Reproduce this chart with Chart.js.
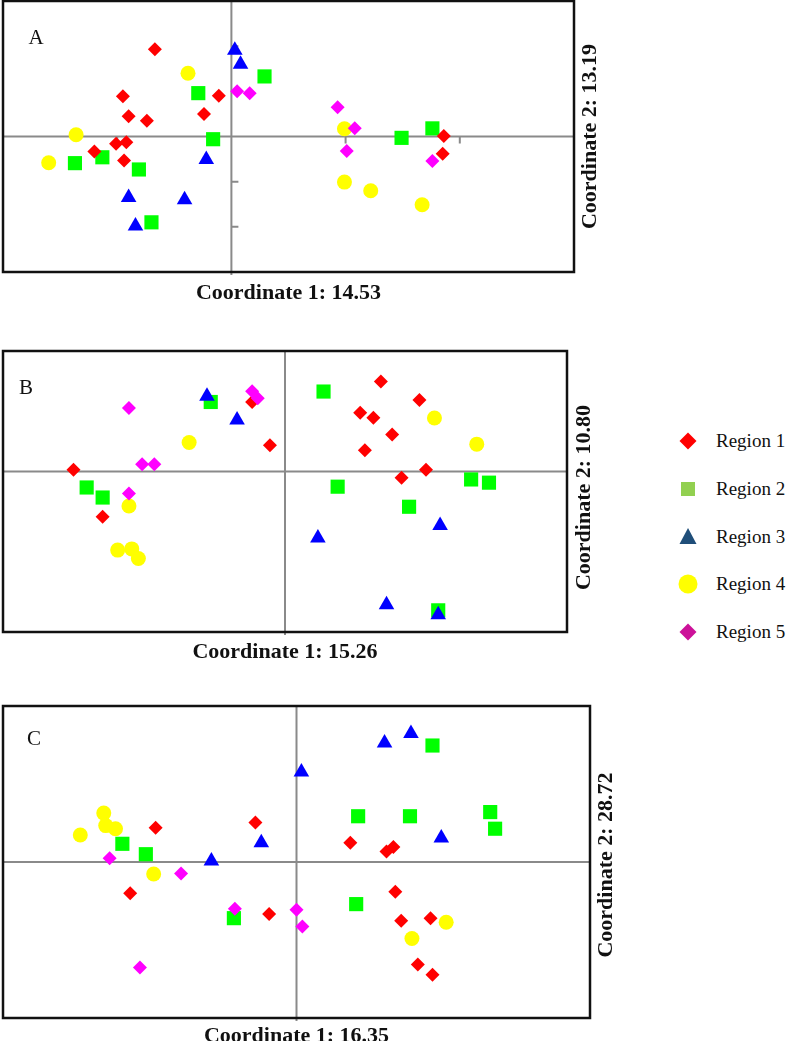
<!DOCTYPE html>
<html>
<head>
<meta charset="utf-8">
<title>PCoA by region</title>
<script src="https://cdn.jsdelivr.net/npm/chart.js@4.4.1/dist/chart.umd.min.js"></script>
<style>
  html, body { margin: 0; padding: 0; background: #fff; }
  body { width: 788px; height: 1041px; position: relative; overflow: hidden; font-family: "Liberation Serif", "Times New Roman", serif; }
  .panel { position: absolute; left: 0; width: 640px; }
  .leg-row { position: absolute; left: 676px; height: 24px; display: flex; align-items: center; font-size: 19px; color: #111; white-space: nowrap; }
  .leg-row svg { width: 24px; height: 24px; margin-right: 16px; flex: none; }
</style>
</head>
<body>
<div class="panel" id="boxA"><canvas id="chartA"></canvas></div>
<div class="panel" id="boxB"><canvas id="chartB"></canvas></div>
<div class="panel" id="boxC"><canvas id="chartC"></canvas></div>
<div id="legend"></div>
<script>
const regions = ['Region 1', 'Region 2', 'Region 3', 'Region 4', 'Region 5'];
const panelLetters = ['A', 'B', 'C'];
const xTitles = ['Coordinate 1: 14.53', 'Coordinate 1: 15.26', 'Coordinate 1: 16.35'];
const yTitles = ['Coordinate 2: 13.19', 'Coordinate 2: 10.80', 'Coordinate 2: 28.72'];

// axis ranges [min, max] and the small tick marks on the zero lines
const rangeAx = [-2, 3], rangeAy = [-3, 3];
const rangeBx = [-3, 3], rangeBy = [-4, 3];
const rangeCx = [-3, 3], rangeCy = [-3, 3];
const ticksAx = [-1, 1, 2], ticksAy = [-2, -1, 1, 2];

// panel A, [coord1, coord2] per individual
const a_r1 = [[-0.67, 1.93], [-0.95, 0.89], [-0.90, 0.45], [-0.74, 0.35], [-1.01, -0.16], [-0.92, -0.13], [-1.20, -0.33], [-0.94, -0.53], [-0.11, 0.90], [-0.24, 0.50], [1.86, 0.01], [1.85, -0.38]];
const a_r2 = [[0.29, 1.33], [-0.29, 0.96], [-0.16, -0.06], [-1.37, -0.59], [-1.13, -0.46], [-0.81, -0.73], [-0.70, -1.90], [1.49, -0.03], [1.76, 0.18]];
const a_r3 = [[0.03, 1.91], [0.08, 1.60], [-0.22, -0.51], [-0.90, -1.35], [-0.41, -1.40], [-0.84, -1.98]];
const a_r4 = [[-0.38, 1.40], [-1.36, 0.04], [-1.60, -0.58], [0.99, 0.17], [0.99, -1.01], [1.22, -1.20], [1.67, -1.51]];
const a_r5 = [[0.05, 1.00], [0.16, 0.96], [0.93, 0.65], [1.08, 0.18], [1.01, -0.32], [1.76, -0.54]];

// panel B
const b_r1 = [[-2.25, 0.04], [-1.94, -1.13], [-0.35, 1.73], [-0.16, 0.65], [1.02, 2.24], [1.43, 1.78], [0.80, 1.46], [0.94, 1.34], [1.14, 0.92], [0.85, 0.53], [1.50, 0.04], [1.24, -0.16]];
const b_r2 = [[-2.11, -0.40], [-1.94, -0.65], [-0.79, 1.73], [0.41, 1.99], [0.56, -0.38], [1.32, -0.88], [1.98, -0.20], [2.17, -0.28], [1.63, -3.46]];
const b_r3 = [[-0.83, 1.87], [-0.51, 1.28], [0.35, -1.66], [1.65, -1.35], [1.08, -3.32], [1.63, -3.57]];
const b_r4 = [[-1.02, 0.72], [-1.66, -0.86], [-1.78, -1.96], [-1.63, -1.93], [-1.56, -2.17], [1.59, 1.33], [2.04, 0.68]];
const b_r5 = [[-1.66, 1.58], [-0.35, 2.00], [-0.29, 1.82], [-1.52, 0.18], [-1.39, 0.18], [-1.66, -0.55]];

// panel C
const c_r1 = [[-1.44, 0.66], [-1.70, -0.60], [-0.42, 0.76], [-0.28, -1.00], [0.55, 0.37], [0.92, 0.20], [0.99, 0.29], [1.01, -0.57], [1.07, -1.13], [1.37, -1.08], [1.24, -1.97], [1.39, -2.17]];
const c_r2 = [[-1.78, 0.35], [-1.54, 0.15], [-0.64, -1.08], [0.63, 0.88], [1.16, 0.88], [1.39, 2.24], [1.98, 0.96], [2.03, 0.64], [0.61, -0.81]];
const c_r3 = [[0.05, 1.73], [0.90, 2.29], [1.17, 2.47], [1.48, 0.46], [-0.36, 0.37], [-0.87, 0.02]];
const c_r4 = [[-1.97, 0.94], [-1.95, 0.70], [-1.85, 0.64], [-2.21, 0.52], [-1.46, -0.23], [1.53, -1.16], [1.18, -1.47]];
const c_r5 = [[-1.91, 0.07], [-1.18, -0.22], [-0.63, -0.90], [0.00, -0.92], [0.06, -1.24], [-1.60, -2.03]];

// marker look per region (plot markers and the legend use different shades)
const markerColors = ['#ff0000', '#00ff00', '#0000ff', '#ffff00', '#ff00ff'];
const legendColors = ['#ff0000', '#92d050', '#1f4e79', '#ffff00', '#cc1199'];
const markerStyles = ['rectRot', 'rect', 'triangle', 'circle', 'rectRot'];
const markerRadius = [7, 10, 9, 7.5, 7];
const drawOrder = [4, 5, 2, 3, 1]; // lower = on top

// draws the zero lines, frame, panel letter and axis titles
const pcoaPlugin = {
  id: 'pcoa',
  beforeDatasetsDraw(chart, args, opts) {
    const { ctx, chartArea: a, scales: { x, y } } = chart;
    const x0 = x.getPixelForValue(0), y0 = y.getPixelForValue(0);
    ctx.save();
    ctx.strokeStyle = '#8a8a8a';
    ctx.lineWidth = 2;
    ctx.beginPath();
    ctx.moveTo(x0, a.top); ctx.lineTo(x0, a.bottom + 3);
    ctx.moveTo(a.left, y0); ctx.lineTo(a.right, y0);
    (opts.ticksX || []).forEach(v => {
      const px = x.getPixelForValue(v);
      ctx.moveTo(px, y0); ctx.lineTo(px, y0 + 7);
    });
    (opts.ticksY || []).forEach(v => {
      const py = y.getPixelForValue(v);
      ctx.moveTo(x0, py); ctx.lineTo(x0 + 7, py);
    });
    ctx.stroke();
    ctx.restore();
  },
  afterDraw(chart, args, opts) {
    const { ctx, chartArea: a } = chart;
    ctx.save();
    ctx.strokeStyle = '#111';
    ctx.lineWidth = 2.5;
    ctx.strokeRect(a.left, a.top, a.right - a.left, a.bottom - a.top);
    ctx.fillStyle = '#111';
    ctx.textAlign = 'center';
    ctx.textBaseline = 'middle';
    ctx.font = '21px "Liberation Serif"';
    ctx.fillText(opts.letter, a.left + opts.letterX, a.top + opts.letterY);
    ctx.font = 'bold 22px "Liberation Serif"';
    ctx.fillText(opts.xTitle, (a.left + a.right) / 2, a.bottom + opts.xGap);
    ctx.translate(a.right + opts.yGap, (a.top + a.bottom) / 2 + (opts.yShift || 0));
    ctx.rotate(-Math.PI / 2);
    ctx.fillText(opts.yTitle, 0, 0);
    ctx.restore();
  }
};

function makeDatasets(groups) {
  return groups.map((pts, i) => ({
    label: regions[i],
    data: pts.map(p => ({ x: p[0], y: p[1] })),
    pointStyle: markerStyles[i],
    pointRadius: markerRadius[i],
    pointHoverRadius: markerRadius[i],
    backgroundColor: markerColors[i],
    borderColor: markerColors[i],
    borderWidth: 0,
    order: drawOrder[i]
  }));
}

// frame = [left, top, right, bottom] of the plot box on the page
function makePanel(idx, frame, groups, rx, ry, extra) {
  const padTop = 12, padBottom = 45, width = 640;
  const box = document.getElementById('box' + panelLetters[idx]);
  box.style.top = (frame[1] - padTop) + 'px';
  box.style.height = (frame[3] - frame[1] + padTop + padBottom) + 'px';
  return new Chart(document.getElementById('chart' + panelLetters[idx]), {
    type: 'scatter',
    data: { datasets: makeDatasets(groups) },
    options: {
      responsive: true,
      maintainAspectRatio: false,
      animation: false,
      layout: {
        autoPadding: false,
        padding: { left: frame[0], top: padTop, right: width - frame[2], bottom: padBottom }
      },
      scales: {
        x: { type: 'linear', min: rx[0], max: rx[1], display: false },
        y: { type: 'linear', min: ry[0], max: ry[1], display: false }
      },
      plugins: {
        legend: { display: false },
        tooltip: { enabled: false },
        pcoa: Object.assign({
          letter: panelLetters[idx],
          xTitle: xTitles[idx],
          yTitle: yTitles[idx]
        }, extra)
      }
    },
    plugins: [pcoaPlugin]
  });
}

makePanel(0, [3, 1, 574, 272], [a_r1, a_r2, a_r3, a_r4, a_r5], rangeAx, rangeAy,
  { ticksX: ticksAx, ticksY: ticksAy, letterX: 33, letterY: 37, xGap: 21, yGap: 16 });
makePanel(1, [3, 351, 567, 632], [b_r1, b_r2, b_r3, b_r4, b_r5], rangeBx, rangeBy,
  { letterX: 23, letterY: 37, xGap: 20, yGap: 17, yShift: 6 });
makePanel(2, [3, 706, 590, 1018], [c_r1, c_r2, c_r3, c_r4, c_r5], rangeCx, rangeCy,
  { letterX: 31, letterY: 33, xGap: 18, yGap: 16, yShift: 3 });

// legend: drawn marker + label per region
const legendTop = [441, 489, 537, 584, 632];
const legendShapes = [
  c => `<polygon points="12,3.5 20.5,12 12,20.5 3.5,12" fill="${c}"/>`,
  c => `<rect x="5" y="5" width="14" height="14" fill="${c}"/>`,
  c => `<polygon points="12,3 20.5,19 3.5,19" fill="${c}"/>`,
  c => `<circle cx="12" cy="12" r="9.5" fill="${c}"/>`,
  c => `<polygon points="12,3.5 20.5,12 12,20.5 3.5,12" fill="${c}"/>`
];
document.getElementById('legend').innerHTML = regions.map((name, i) =>
  `<div class="leg-row" style="top:${legendTop[i] - 12}px"><svg viewBox="0 0 24 24">${legendShapes[i](legendColors[i])}</svg><span>${name}</span></div>`
).join('');
</script>
</body>
</html>
